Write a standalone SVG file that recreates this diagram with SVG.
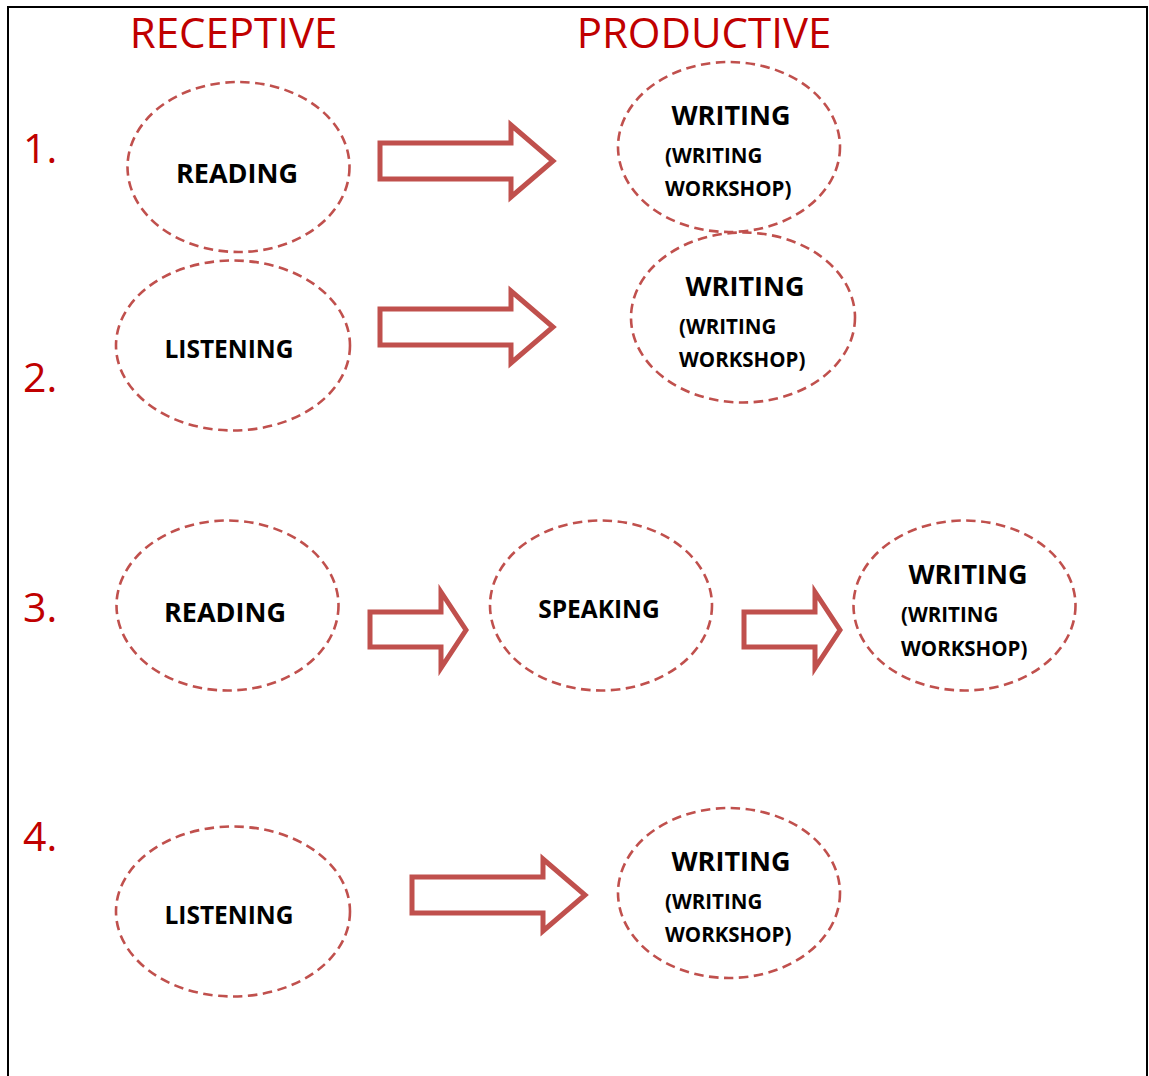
<svg xmlns="http://www.w3.org/2000/svg" width="1149" height="1076" viewBox="0 0 1149 1076">
<style>
.node{fill:none;stroke:#C0504D;stroke-width:2.6;stroke-dasharray:9.5 5.5}
.arrow{fill:none;stroke:#C0504D;stroke-width:5;stroke-linejoin:miter}
.hdr{font-family:"Open Sans","Liberation Sans",sans-serif;font-size:42px;fill:#C00000}
.num{font-family:"Open Sans","Liberation Sans",sans-serif;font-size:41px;fill:#C00000}
.big{font-family:"Open Sans","Liberation Sans",sans-serif;font-weight:bold;font-size:27px;fill:#000;text-anchor:middle}
.mid{font-family:"Open Sans","Liberation Sans",sans-serif;font-weight:bold;font-size:24.5px;fill:#000;text-anchor:middle}
.sm{font-family:"Open Sans","Liberation Sans",sans-serif;font-weight:bold;font-size:20.5px;fill:#000}
</style>
<rect x="0" y="0" width="1149" height="1076" fill="#fff"/>
<rect x="8" y="7" width="1139" height="1090" fill="none" stroke="#000" stroke-width="2"/>
<text class="hdr" x="233.5" y="48" text-anchor="middle">RECEPTIVE</text>
<text class="hdr" x="704" y="48" text-anchor="middle">PRODUCTIVE</text>
<text class="num" x="23" y="163">1.</text>
<text class="num" x="23" y="392">2.</text>
<text class="num" x="23" y="622">3.</text>
<text class="num" x="23" y="851">4.</text>

<g id="connectors">
<path class="arrow" d="M380,143 L511,143 L511,125 L553,161 L511,197 L511,179 L380,179 Z"/>
<path class="arrow" d="M380,309 L511,309 L511,291 L553,327 L511,363 L511,345 L380,345 Z"/>
<path class="arrow" d="M370,612 L441,612 L441,592 L466,630 L441,668 L441,647 L370,647 Z"/>
<path class="arrow" d="M744,612 L815,612 L815,592 L840,630 L815,668 L815,647 L744,647 Z"/>
<path class="arrow" d="M412,877 L543,877 L543,859 L585,895 L543,931 L543,913 L412,913 Z"/>
</g>

<g id="n1-reading">
<ellipse class="node" cx="238.5" cy="167" rx="111" ry="85"/>
<text class="big" x="237" y="183">READING</text>
</g>
<g id="n1-writing">
<ellipse class="node" cx="729" cy="147" rx="111" ry="85"/>
<text class="big" x="731" y="125">WRITING</text>
<text class="sm" x="665" y="163">(WRITING</text>
<text class="sm" x="665" y="196">WORKSHOP)</text>
</g>
<g id="n2-listening">
<ellipse class="node" cx="233" cy="345.5" rx="117" ry="85"/>
<text class="mid" x="229" y="358">LISTENING</text>
</g>
<g id="n2-writing">
<ellipse class="node" cx="743" cy="317.5" rx="112" ry="85"/>
<text class="big" x="745" y="296">WRITING</text>
<text class="sm" x="679" y="334">(WRITING</text>
<text class="sm" x="679" y="367">WORKSHOP)</text>
</g>
<g id="n3-reading">
<ellipse class="node" cx="227.5" cy="605.5" rx="111" ry="85"/>
<text class="big" x="225" y="622">READING</text>
</g>
<g id="n3-speaking">
<ellipse class="node" cx="601" cy="605.5" rx="111" ry="85"/>
<text class="mid" x="599" y="618">SPEAKING</text>
</g>
<g id="n3-writing">
<ellipse class="node" cx="964.5" cy="605.5" rx="111" ry="85"/>
<text class="big" x="968" y="584">WRITING</text>
<text class="sm" x="901" y="622">(WRITING</text>
<text class="sm" x="901" y="656">WORKSHOP)</text>
</g>
<g id="n4-listening">
<ellipse class="node" cx="233" cy="911.5" rx="117" ry="85"/>
<text class="mid" x="229" y="924">LISTENING</text>
</g>
<g id="n4-writing">
<ellipse class="node" cx="729" cy="893" rx="111" ry="85"/>
<text class="big" x="731" y="871">WRITING</text>
<text class="sm" x="665" y="909">(WRITING</text>
<text class="sm" x="665" y="942">WORKSHOP)</text>
</g>
</svg>
